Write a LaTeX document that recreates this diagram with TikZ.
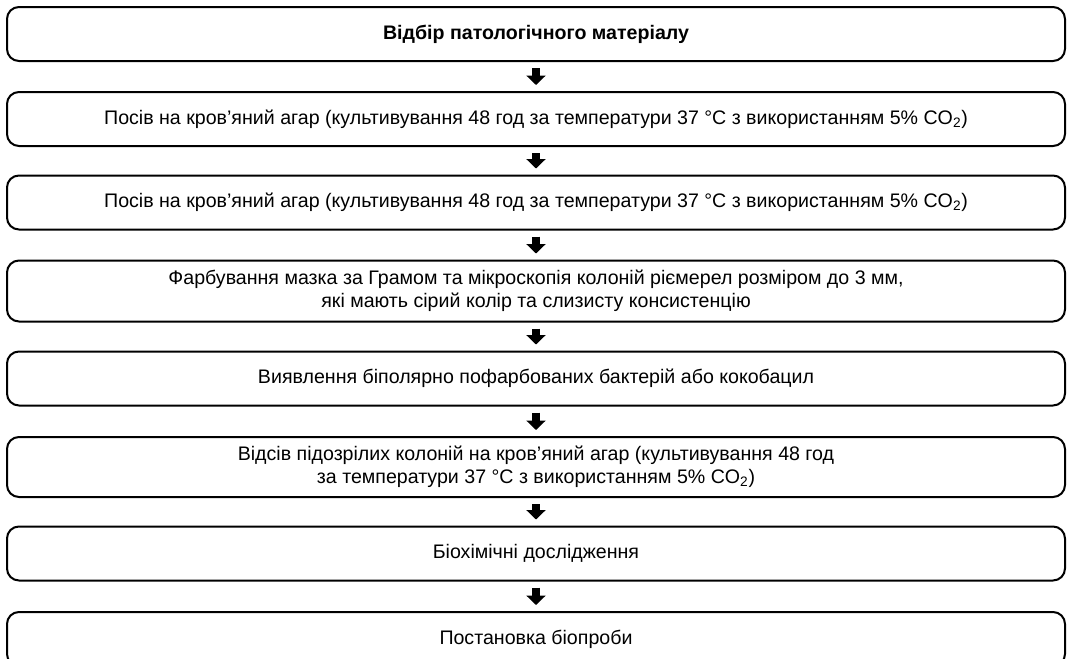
\documentclass[tikz,border=0pt]{standalone}
\usepackage{fontspec}
\setmainfont{Liberation Sans}
\usetikzlibrary{arrows.meta}

\begin{document}
\begin{tikzpicture}[
    x=0.75pt, y=-0.75pt,
    % Стиль для блоків: заокруглений прямокутник з текстом по центру
    block/.style={rectangle, rounded corners=9pt, draw, line width=1.5pt,
        minimum width=793.5pt, minimum height=40.5pt, align=center,
        inner sep=0pt, font=\fontsize{14.7}{17.6}\selectfont},
    % Стиль для стрілок: товста лінія з трикутним наконечником
    link/.style={line width=6pt, -{Triangle[width=14pt, length=7pt]},
        shorten <=4.5pt, shorten >=4.5pt}
]

    % --- Межі малюнка ---
    \useasboundingbox (0,0) rectangle (1072,658);
    \clip (0,0) rectangle (1072,658);

    % --- Блоки схеми ---
    % Усі блоки стоять один під одним (X = 536)
    \node[block, font=\fontsize{14.7}{17.6}\selectfont\bfseries] (b1) at (536, 34)
        {Відбір патологічного матеріалу};
    \node[block] (b2) at (536, 119)
        {Посів на кров’яний агар (культивування 48 год за температури 37 °C з використанням 5\% CO\textsubscript{2})};
    \node[block] (b3) at (536, 202.5)
        {Посів на кров’яний агар (культивування 48 год за температури 37 °C з використанням 5\% CO\textsubscript{2})};
    \node[block, minimum height=45.75pt] (b4) at (536, 291)
        {Фарбування мазка за Грамом та мікроскопія колоній ріємерел розміром до 3 мм,\\
         які мають сірий колір та слизисту консистенцію};
    \node[block] (b5) at (536, 378.5)
        {Виявлення біполярно пофарбованих бактерій або кокобацил};
    \node[block, minimum height=45pt] (b6) at (536, 467)
        {Відсів підозрілих колоній на кров’яний агар (культивування 48 год\\
         за температури 37 °C з використанням 5\% CO\textsubscript{2})};
    \node[block] (b7) at (536, 553.5)
        {Біохімічні дослідження};
    \node[block] (b8) at (536, 639)
        {Постановка біопроби};

    % --- Стрілки між блоками ---
    \foreach \a/\b in {b1/b2, b2/b3, b3/b4, b4/b5, b5/b6, b6/b7, b7/b8}
        \draw[link] (\a) -- (\b);

\end{tikzpicture}
\end{document}
